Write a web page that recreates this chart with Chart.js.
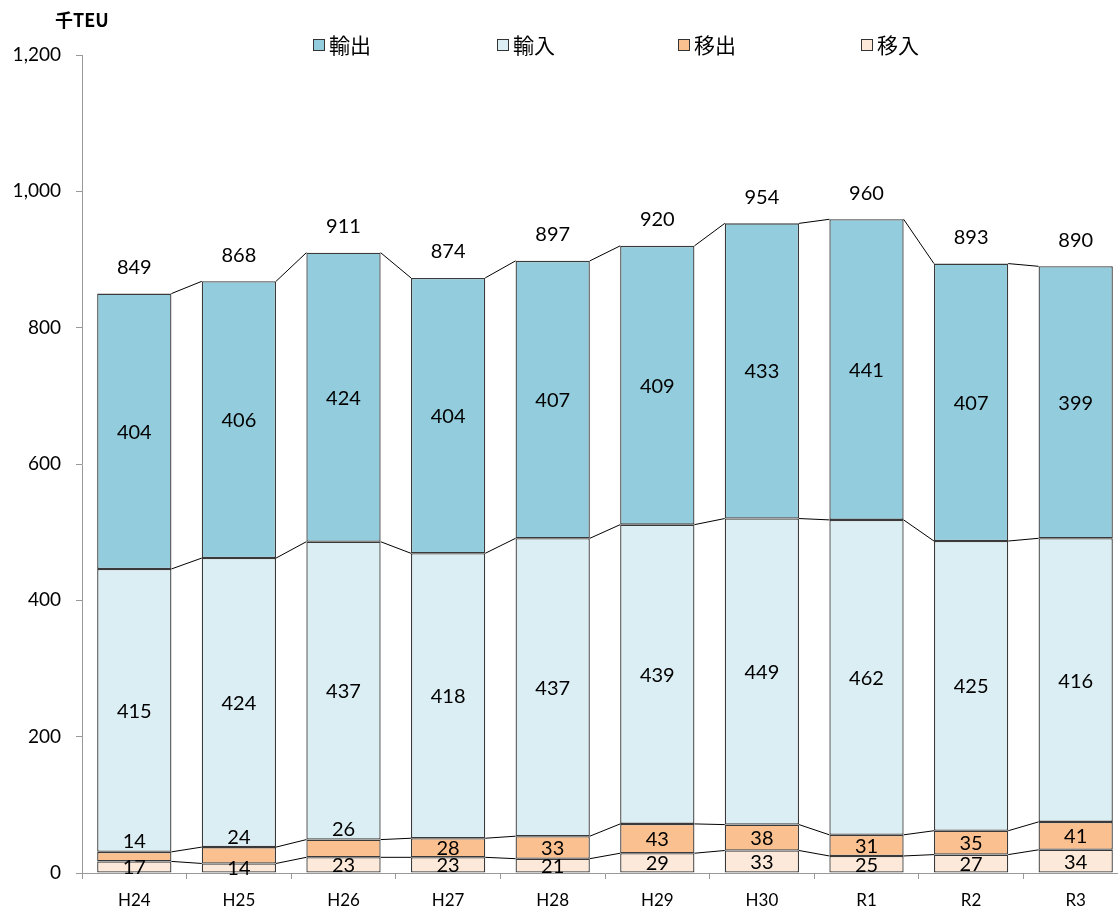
<!DOCTYPE html>
<html>
<head>
<meta charset="utf-8">
<script src="https://cdn.jsdelivr.net/npm/chart.js@4.4.0/dist/chart.umd.min.js"></script>
<style>
  html, body { margin: 0; padding: 0; background: #fff; overflow: hidden; }
  canvas { display: block; }
</style>
</head>
<body>
<canvas id="teuChart" width="1128" height="909"></canvas>
<script>
// 年度
var years = ['H24', 'H25', 'H26', 'H27', 'H28', 'H29', 'H30', 'R1', 'R2', 'R3'];
// 千TEU
var shipIn  = [17, 14, 23, 23, 21, 29, 33, 25, 27, 34];          // 移入
var shipOut = [14, 24, 26, 28, 33, 43, 38, 31, 35, 41];          // 移出
var imports = [415, 424, 437, 418, 437, 439, 449, 462, 425, 416]; // 輸入
var exports = [404, 406, 424, 404, 407, 409, 433, 441, 407, 399]; // 輸出
var totals  = [849, 868, 911, 874, 897, 920, 954, 960, 893, 890];

var FONT = "Lato, 'Noto Sans CJK JP', sans-serif";
var CJK = "'Noto Sans CJK JP', sans-serif";

// 系列線・データラベル・凡例
var overlay = {
  id: 'overlay',
  afterDatasetsDraw: function(chart) {
    var ctx = chart.ctx;
    var n = chart.data.datasets.length;
    ctx.save();
    ctx.strokeStyle = '#000';
    ctx.lineWidth = 1;
    for (var i = 0; i < n; i++) {
      var bars = chart.getDatasetMeta(i).data;
      for (var j = 0; j < bars.length - 1; j++) {
        var a = bars[j], b = bars[j + 1];
        ctx.beginPath();
        ctx.moveTo(a.x + a.width / 2, a.y);
        ctx.lineTo(b.x - b.width / 2, b.y);
        ctx.stroke();
      }
    }

    ctx.fillStyle = '#000';
    ctx.font = '20px ' + FONT;
    ctx.textAlign = 'center';
    ctx.textBaseline = 'middle';
    for (var i = 0; i < n; i++) {
      var ds = chart.data.datasets[i];
      chart.getDatasetMeta(i).data.forEach(function(bar, j) {
        var h = bar.base - bar.y;
        var y = (bar.y + bar.base) / 2;
        if (i === 1 && h < 18.5) y = bar.y - 11;
        ctx.fillText(ds.data[j], bar.x, y + 1);
      });
    }
    var top = chart.getDatasetMeta(n - 1).data;
    top.forEach(function(bar, j) {
      ctx.fillText(totals[j], bar.x, bar.y - 26);
    });
    ctx.restore();
  },
  afterDraw: function(chart) {
    var ctx = chart.ctx;
    ctx.save();
    ctx.font = 'bold 18px ' + CJK;
    ctx.fillStyle = '#000';
    ctx.textAlign = 'left';
    ctx.textBaseline = 'middle';
    ctx.fillText('千TEU', 55, 20);

    var legendX = [313, 497, 678, 861];
    var order = [3, 2, 1, 0];
    ctx.font = '21px ' + CJK;
    order.forEach(function(di, k) {
      var ds = chart.data.datasets[di];
      var x = legendX[k];
      ctx.fillStyle = ds.backgroundColor;
      ctx.fillRect(x, 39, 12, 12);
      ctx.strokeStyle = '#333';
      ctx.lineWidth = 1;
      ctx.strokeRect(x + 0.5, 39.5, 11, 11);
      ctx.fillStyle = '#000';
      ctx.fillText(ds.label, x + 16, 45);
    });
    ctx.restore();
  }
};

new Chart(document.getElementById('teuChart').getContext('2d'), {
  type: 'bar',
  data: {
    labels: years,
    datasets: [
      { label: '移入', data: shipIn,  backgroundColor: '#FDE9D9' },
      { label: '移出', data: shipOut, backgroundColor: '#FAC090' },
      { label: '輸入', data: imports, backgroundColor: '#DBEEF4' },
      { label: '輸出', data: exports, backgroundColor: '#93CDDD' }
    ]
  },
  options: {
    responsive: false,
    animation: false,
    layout: { padding: { top: 55, left: 0, right: 0, bottom: 0 } },
    datasets: {
      bar: {
        borderColor: '#3a3a3a',
        borderWidth: 1.3,
        borderSkipped: false,
        barPercentage: 0.71,
        categoryPercentage: 1
      }
    },
    plugins: {
      legend: { display: false },
      tooltip: { enabled: false }
    },
    scales: {
      x: {
        stacked: true,
        grid: { display: true, drawOnChartArea: false, tickLength: 6, color: '#999', offset: true },
        border: { color: '#999' },
        ticks: { color: '#000', font: { family: FONT, size: 17 }, padding: 11 },
        afterFit: function(s) { s.height = 36; }
      },
      y: {
        stacked: true,
        min: 0,
        max: 1200,
        grid: { display: true, drawOnChartArea: false, tickLength: 6, color: '#999' },
        border: { color: '#999' },
        ticks: {
          stepSize: 200,
          color: '#000',
          font: { family: FONT, size: 19 },
          padding: 15,
          callback: function(v) { return v.toLocaleString('en-US'); }
        },
        afterFit: function(s) { s.width = 82; }
      }
    }
  },
  plugins: [overlay]
});
</script>
</body>
</html>
